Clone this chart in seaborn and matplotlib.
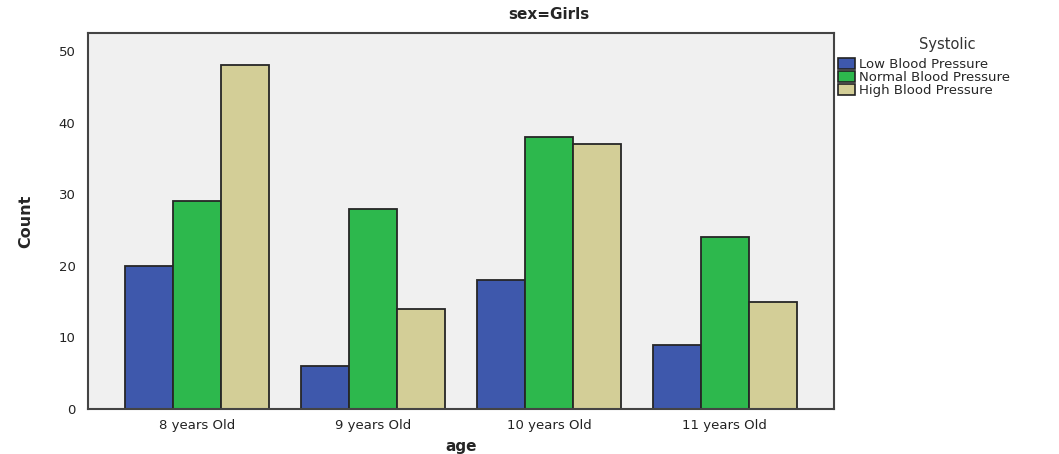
import pandas as pd
import seaborn as sns
import matplotlib.pyplot as plt
from matplotlib.patches import Patch

# Data
ages = ["8 years Old", "9 years Old", "10 years Old", "11 years Old"]
systolic = ["Low Blood Pressure", "Normal Blood Pressure", "High Blood Pressure"]
low = [20, 6, 18, 9]
normal = [29, 28, 38, 24]
high = [48, 14, 37, 15]
colors = ["#3e58ac", "#2db84d", "#d3ce97"]

df = pd.DataFrame({
    "age": ages * 3,
    "Systolic": [systolic[0]] * 4 + [systolic[1]] * 4 + [systolic[2]] * 4,
    "Count": low + normal + high,
})

sns.set_style("white")
plt.rcParams['font.family'] = ['DejaVu Sans']

fig = plt.figure(figsize=(10.59, 4.54), dpi=100)
ax = fig.add_axes([0.083, 0.099, 0.7045, 0.828])
ax.set_facecolor("#f0f0f0")

sns.barplot(data=df, x="age", y="Count", hue="Systolic", palette=colors,
            order=ages, hue_order=systolic, width=0.82, gap=0, saturation=1,
            edgecolor="#262626", linewidth=1.3, ax=ax, legend=False)

ax.set_xlim(-0.62, 3.62)
ax.set_ylim(0, 52.5)
ax.set_yticks([0, 10, 20, 30, 40, 50])
for s in ax.spines.values():
    s.set_color("#444444")
    s.set_linewidth(1.5)
ax.tick_params(axis="y", length=8, width=1.2, color="#444444", labelsize=9.5, pad=1)
ax.tick_params(axis="x", length=5, width=1.5, color="#444444", labelsize=9.5, pad=2)
for t in ax.get_xticklabels() + ax.get_yticklabels():
    t.set_color("#222222")

ax.set_xlabel("age", fontsize=11, fontweight="bold", labelpad=5)
ax.set_ylabel("Count", fontsize=11.5, fontweight="bold", labelpad=18,
              family=["Liberation Sans Narrow", "DejaVu Sans"])
fig.text(0.518, 0.967, "sex=Girls", ha="center", va="center",
         fontsize=11, fontweight="bold")

# legend (title drawn separately, centred like the original)
fig.text(0.895, 0.903, "Systolic", ha="center", va="center",
         fontsize=10.5, color="#333333")
handles = [Patch(facecolor=c, edgecolor="#222222", linewidth=1.2) for c in colors]
leg = fig.legend(handles, systolic, loc="upper left",
                 bbox_to_anchor=(0.785, 0.887), frameon=False, fontsize=9.5,
                 handlelength=1.3, handleheight=0.85, borderpad=0,
                 handletextpad=0.3, labelspacing=0.0)

fig.savefig("out.png", dpi=100)
